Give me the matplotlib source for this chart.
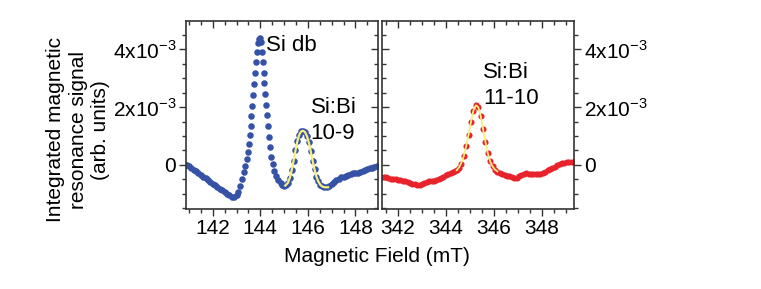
import matplotlib
matplotlib.use("Agg")
import matplotlib.pyplot as plt
from matplotlib.ticker import MultipleLocator, FixedLocator, FuncFormatter

plt.rcParams['font.family'] = ['Liberation Sans', 'DejaVu Sans']

# Si db + Si:Bi 10-9 line (field in mT, signal in units of 1e-3)
field_low = [140.9, 141.0, 141.1, 141.2, 141.3, 141.4, 141.5, 141.6, 141.7, 141.8,
             141.9, 142.0, 142.1, 142.2, 142.3, 142.4, 142.5, 142.6, 142.7, 142.8,
             142.9, 143.0, 143.08, 143.16, 143.24, 143.31, 143.37, 143.42, 143.47, 143.51,
             143.55, 143.59, 143.63, 143.66, 143.70, 143.73, 143.77, 143.81, 143.85, 143.90,
             143.95, 144.0, 144.03, 144.07, 144.10, 144.14, 144.17, 144.20, 144.24, 144.27,
             144.31, 144.35, 144.40, 144.46, 144.52, 144.59, 144.67, 144.76, 144.85, 144.93,
             145.0, 145.08, 145.16, 145.24, 145.32, 145.40, 145.48, 145.56, 145.64, 145.72,
             145.80, 145.88, 145.96, 146.04, 146.12, 146.20, 146.28, 146.36, 146.44, 146.52,
             146.60, 146.70, 146.80, 146.9, 147.0, 147.1, 147.2, 147.3, 147.4, 147.5,
             147.6, 147.7, 147.8, 147.9, 148.0, 148.1, 148.2, 148.3, 148.4, 148.5,
             148.6, 148.7, 148.8, 148.9]
signal_low = [0.0, -0.05, -0.10, -0.16, -0.22, -0.28, -0.34, -0.40, -0.46, -0.52,
              -0.58, -0.64, -0.70, -0.77, -0.83, -0.88, -0.94, -0.99, -1.04, -1.09,
              -1.12, -1.05, -0.92, -0.74, -0.50, -0.25, -0.02, 0.20, 0.45, 0.72,
              1.02, 1.35, 1.70, 2.05, 2.42, 2.80, 3.18, 3.56, 3.91, 4.20,
              4.36, 4.38, 4.25, 3.91, 3.56, 3.16, 2.82, 2.45, 2.07, 1.72,
              1.34, 0.98, 0.63, 0.29, 0.02, -0.20, -0.38, -0.52, -0.62, -0.68,
              -0.72, -0.70, -0.62, -0.45, -0.18, 0.15, 0.50, 0.82, 1.05, 1.16,
              1.18, 1.14, 1.00, 0.78, 0.48, 0.15, -0.15, -0.40, -0.57, -0.68,
              -0.74, -0.77, -0.77, -0.74, -0.66, -0.58, -0.52, -0.47, -0.43, -0.40,
              -0.37, -0.33, -0.30, -0.29, -0.28, -0.26, -0.24, -0.21, -0.18, -0.15,
              -0.12, -0.09, -0.06, -0.04]

# fit of the 10-9 line
fit_low_field = [145.05, 145.16, 145.24, 145.32, 145.40, 145.48, 145.56, 145.64, 145.72, 145.80,
                 145.88, 145.96, 146.04, 146.12, 146.20, 146.28, 146.36, 146.44, 146.52, 146.60,
                 146.70, 146.85]
fit_low_signal = [-0.71, -0.62, -0.45, -0.18, 0.15, 0.50, 0.82, 1.05, 1.16, 1.18,
                  1.14, 1.00, 0.78, 0.48, 0.15, -0.15, -0.40, -0.57, -0.68, -0.74,
                  -0.77, -0.77]

# Si:Bi 11-10 line
field_high = [341.3, 341.4, 341.5, 341.6, 341.7, 341.8, 341.9, 342.0, 342.1, 342.2,
              342.3, 342.4, 342.5, 342.6, 342.7, 342.8, 342.9, 343.0, 343.1, 343.2,
              343.3, 343.4, 343.5, 343.6, 343.7, 343.8, 343.9, 344.0, 344.1, 344.2,
              344.3, 344.4, 344.45, 344.55, 344.65, 344.75, 344.85, 344.95, 345.05, 345.15,
              345.25, 345.35, 345.45, 345.55, 345.65, 345.75, 345.85, 345.95, 346.05, 346.15,
              346.25, 346.35, 346.45, 346.55, 346.65, 346.75, 346.85, 346.95, 347.05, 347.15,
              347.25, 347.35, 347.45, 347.55, 347.65, 347.75, 347.85, 347.95, 348.05, 348.15,
              348.25, 348.35, 348.45, 348.55, 348.65, 348.75, 348.85, 348.95, 349.05, 349.15,
              349.25, 349.35]
signal_high = [-0.40, -0.41, -0.43, -0.45, -0.47, -0.48, -0.50, -0.51, -0.52, -0.54,
               -0.56, -0.58, -0.61, -0.64, -0.66, -0.68, -0.68, -0.65, -0.62, -0.59,
               -0.57, -0.56, -0.56, -0.53, -0.50, -0.45, -0.40, -0.36, -0.32, -0.28,
               -0.25, -0.21, -0.18, -0.10, 0.05, 0.30, 0.65, 1.05, 1.50, 1.88,
               2.07, 2.00, 1.70, 1.25, 0.80, 0.40, 0.12, -0.05, -0.17, -0.23,
               -0.28, -0.32, -0.34, -0.37, -0.39, -0.42, -0.44, -0.44, -0.38, -0.33,
               -0.30, -0.29, -0.30, -0.30, -0.30, -0.30, -0.31, -0.31, -0.27, -0.23,
               -0.18, -0.14, -0.10, -0.07, 0.00, 0.05, 0.07, 0.08, 0.09, 0.10,
               0.11, 0.11]

fit_high_field = [344.45, 344.55, 344.65, 344.75, 344.85, 344.95, 345.05, 345.15, 345.25, 345.35,
                  345.45, 345.55, 345.65, 345.75, 345.85, 345.95, 346.05, 346.15]
fit_high_signal = [-0.18, -0.08, 0.08, 0.32, 0.66, 1.06, 1.50, 1.88, 2.06, 2.00,
                   1.70, 1.25, 0.80, 0.40, 0.12, -0.05, -0.16, -0.22]

y_ticks = [0, 2, 4]
y_labels = ['0', '2x10$^{\\mathregular{-3}}$', '4x10$^{\\mathregular{-3}}$']

fig = plt.figure(figsize=(7.61, 2.89), dpi=100)
ax1 = fig.add_axes([0.2444, 0.2768, 0.2523, 0.6505])
ax2 = fig.add_axes([0.5020, 0.2768, 0.2523, 0.6505])

blue = '#3552a6'
red = '#e8232b'
yellow = '#f6f07a'
spine_c = '#333333'

ax1.plot(field_low, signal_low, 'o', color=blue, ms=4.7, mew=0)
ax1.plot(fit_low_field, fit_low_signal, '-', color=yellow, lw=1.6)
ax2.plot(field_high, signal_high, 'o', color=red, ms=4.4, mew=0)
ax2.plot(fit_high_field, fit_high_signal, '-', color=yellow, lw=1.3)

ax1.set_xlim(140.875, 148.95)
ax2.set_xlim(341.333, 349.35)
fmt = FuncFormatter(lambda v, p: dict(zip(y_ticks, y_labels)).get(int(round(v)), ''))

for ax, side, other in [(ax1, 'left', 'right'), (ax2, 'right', 'left')]:
    ax.set_ylim(-1.52, 4.97)
    for s in ax.spines.values():
        s.set_linewidth(1.2)
        s.set_color(spine_c)
    ax.xaxis.set_major_locator(MultipleLocator(2))
    ax.xaxis.set_minor_locator(MultipleLocator(0.5))
    ax.yaxis.set_major_locator(FixedLocator(y_ticks))
    ax.yaxis.set_minor_locator(MultipleLocator(0.5))
    ax.yaxis.set_major_formatter(fmt)
    ax.yaxis.set_ticks_position(side)
    ax.tick_params(which='both', direction='out', color=spine_c, width=1.0,
                   labelsize=15, pad=2)
    ax.tick_params(which='major', length=5)
    ax.tick_params(which='minor', length=3)
    top = ax.secondary_xaxis('top')
    top.xaxis.set_major_locator(MultipleLocator(2))
    top.xaxis.set_minor_locator(MultipleLocator(0.5))
    top.tick_params(which='both', direction='in', labeltop=False, color=spine_c, width=1.0)
    top.tick_params(which='major', length=5)
    top.tick_params(which='minor', length=3)
    top.spines['top'].set_visible(False)
    sec = ax.secondary_yaxis(other)
    sec.yaxis.set_major_locator(FixedLocator(y_ticks))
    sec.yaxis.set_minor_locator(MultipleLocator(0.5))
    sec.tick_params(which='both', direction='in', labelleft=False, labelright=False,
                    color=spine_c, width=1.0)
    sec.tick_params(which='major', length=5)
    sec.tick_params(which='minor', length=3)
    sec.spines[other].set_visible(False)

ax1.text(144.25, 4.14, 'Si db', fontsize=16, va='center', ha='left')
ax1.text(146.12, 1.53, 'Si:Bi\n10-9', fontsize=16, va='center', ha='left', linespacing=1.3)
ax2.text(345.54, 2.74, 'Si:Bi\n11-10', fontsize=16, va='center', ha='left', linespacing=1.3)

fig.text(78 / 761, 1 - 130 / 289, 'Integrated magnetic\nresonance signal\n(arb. units)',
         rotation=90, ha='center', va='center', fontsize=15, linespacing=1.25)
fig.text(377 / 761, 1 - 256 / 289, 'Magnetic Field (mT)', ha='center', va='center', fontsize=15)

fig.savefig('out.png', dpi=100)
